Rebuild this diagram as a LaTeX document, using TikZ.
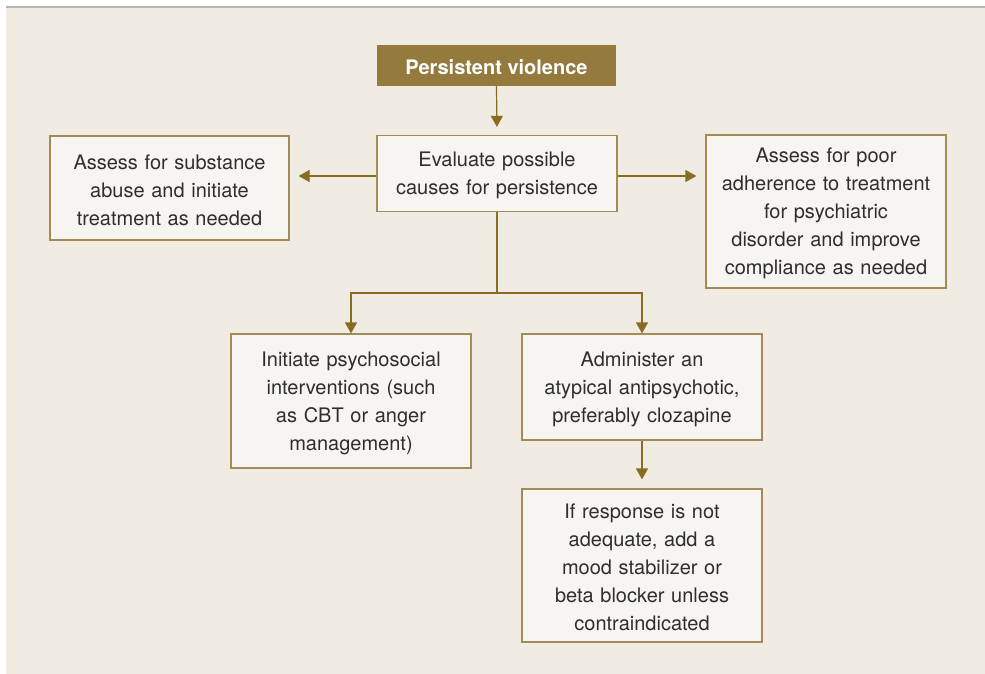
\documentclass[tikz,border=0pt]{standalone}
\usepackage{fontspec}
\setmainfont{TeX Gyre Heros}
\usetikzlibrary{arrows.meta,calc}
\definecolor{bgc}{HTML}{F0ECE4}
\definecolor{boxfill}{HTML}{F7F5F1}
\definecolor{boxline}{HTML}{A38B55}
\definecolor{brownfill}{HTML}{957A3D}
\definecolor{arrowc}{HTML}{8A6B22}
\definecolor{txt}{HTML}{2E2E2E}
\definecolor{topline}{HTML}{B4B4B4}
\newcommand{\tstrut}{\rule{0pt}{19pt}}
\tikzset{
  flowbox/.style={draw=boxline, line width=1.2pt, fill=boxfill, text=txt,
    font=\fontsize{20}{28}\selectfont, align=center, inner sep=0pt,
    minimum width=240pt, text width=225pt},
  headbox/.style={fill=brownfill, text=white, font=\fontsize{20}{24}\selectfont\bfseries,
    align=center, inner sep=0pt, minimum width=239pt, minimum height=41pt},
  conn/.style={draw=arrowc, line width=1.2pt},
  arr/.style={conn, -{Triangle[width=12pt,length=11pt]}}
}
\begin{document}
\begin{tikzpicture}[x=1pt,y=-1pt]
\useasboundingbox (0,0) rectangle (985,674);
\fill[white] (0,0) rectangle (985,674);
\fill[bgc] (6,7) rectangle (985,674);
\draw[topline, line width=2pt] (6,7) -- (985,7);

\node[headbox] (pv) at (496.5,65.5) {\tstrut Persistent violence};
\node[flowbox, minimum height=76pt] (ev) at (497,173.5) {\tstrut Evaluate possible\\causes for persistence};
\node[flowbox, minimum height=104pt, minimum width=239pt] (sub) at (169.5,188) {\tstrut Assess for substance\\abuse and initiate\\treatment as needed};
\node[flowbox, minimum height=153pt] (adh) at (826,211.5) {\tstrut Assess for poor\\adherence to treatment\\for psychiatric\\disorder and improve\\compliance as needed};
\node[flowbox, minimum height=134pt] (psy) at (351,401) {\tstrut Initiate psychosocial\\interventions (such\\as CBT or anger\\management)};
\node[flowbox, minimum height=106pt] (adm) at (642,387) {\tstrut Administer an\\atypical antipsychotic,\\preferably clozapine};
\node[flowbox, minimum height=153pt] (fin) at (642,565.5) {\tstrut If response is not\\adequate, add a\\mood stabilizer or\\beta blocker unless\\contraindicated};

\coordinate (br) at (497,293);

\draw[arr, shorten >=8pt] (pv.south) -- (ev.north);
\draw[arr, shorten >=9pt] ([yshift=-2.5pt]ev.west) -- ([yshift=-2.5pt]ev.west -| sub.east);
\draw[arr, shorten >=9pt] ([yshift=-2.5pt]ev.east) -- ([yshift=-2.5pt]ev.east -| adh.west);
\draw[conn] (ev.south) -- (br);
\draw[arr] (br) -| (psy.north);
\draw[arr] (br) -| (adm.north);
\draw[arr, shorten >=9pt] (adm.south) -- (fin.north);
\end{tikzpicture}
\end{document}
